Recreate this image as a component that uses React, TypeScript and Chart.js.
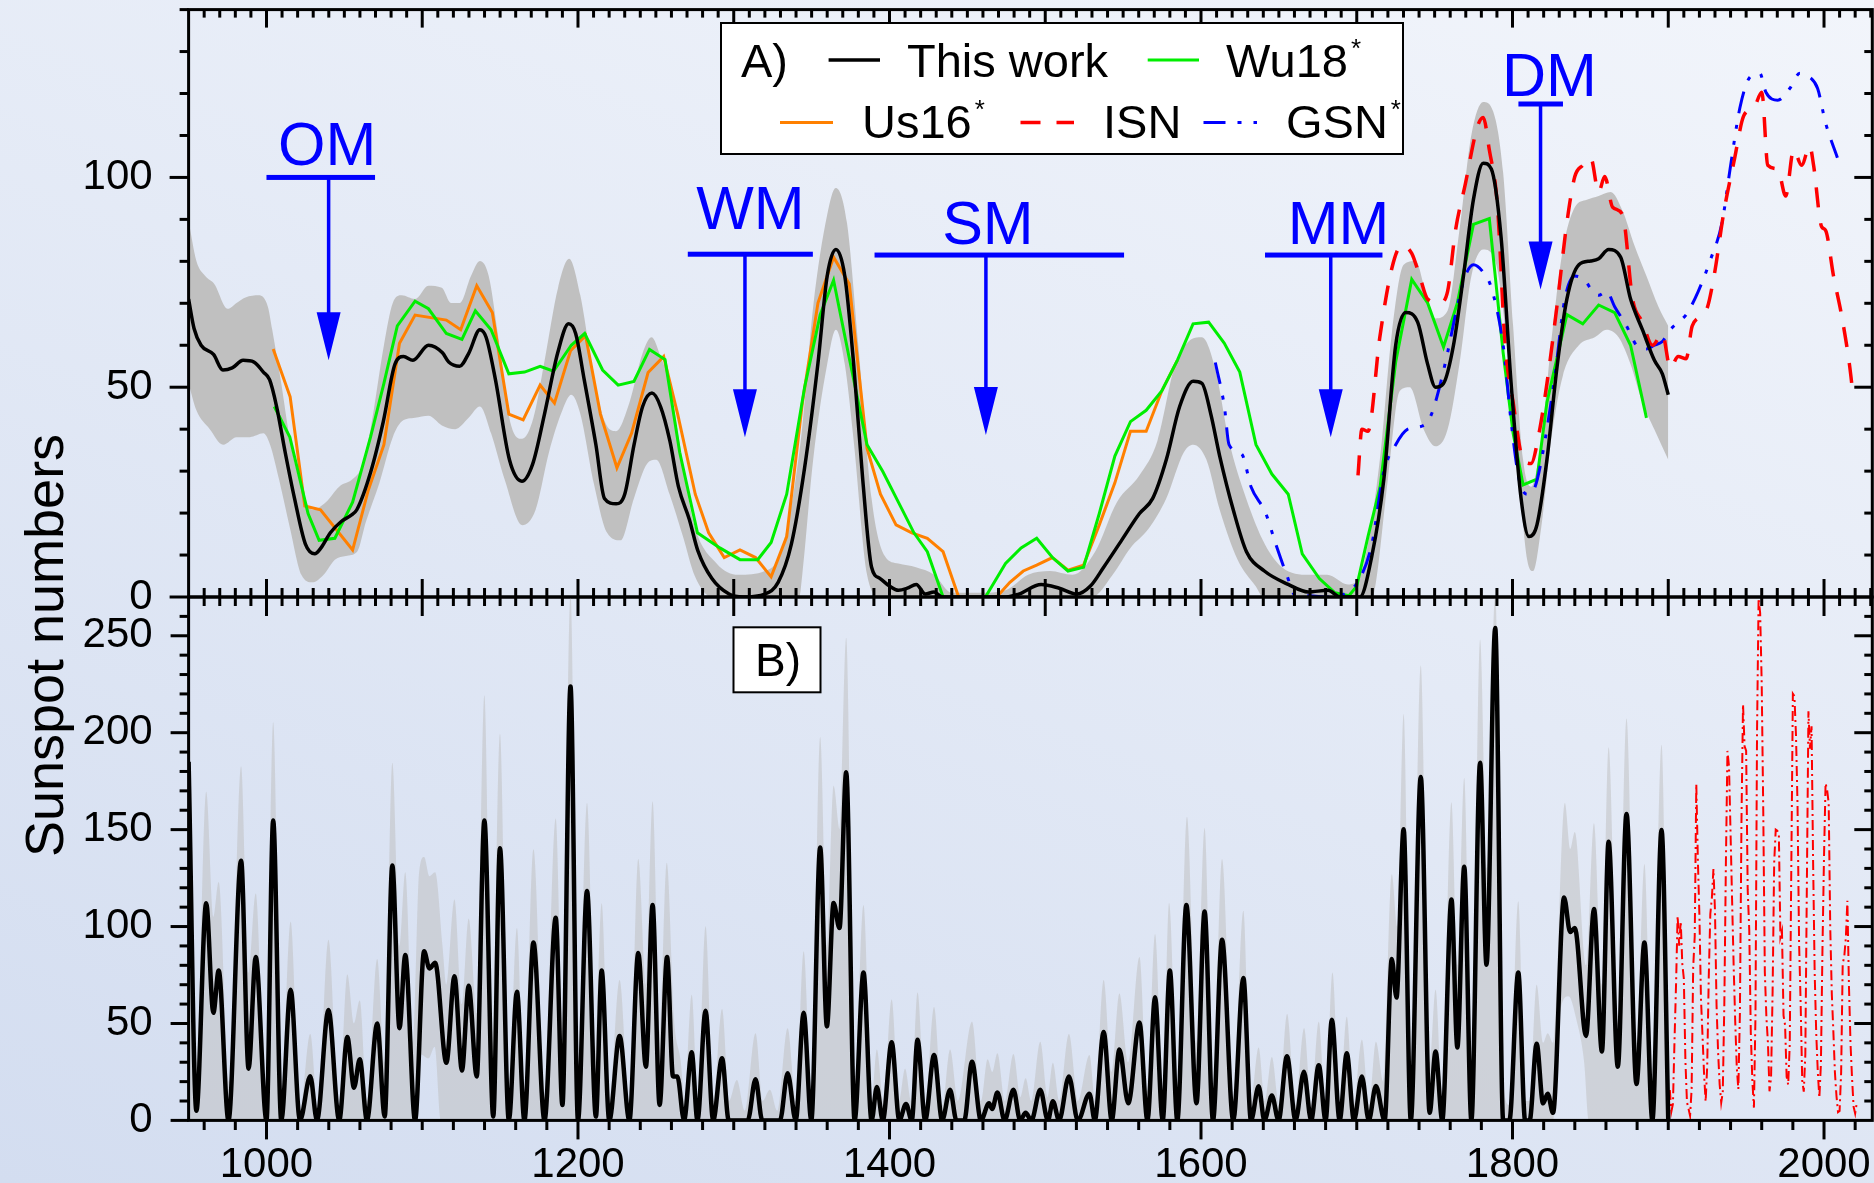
import React, { useEffect, useRef } from "react";
import { Chart, registerables } from "chart.js";

Chart.register(...registerables);

// ---------------- Panel A: smoothed reconstructions [year, sunspot number] ----------------
const thisWorkA: [number, number][] = [
  [950, 71], [953.5, 64], [958, 60], [966, 57.8], [972, 54.1], [978, 54.6], [985, 56.4], [992, 56], [998, 53.6],
  [1002, 51.8], [1006.5, 45.4], [1012, 34.5], [1018, 23.5], [1025, 12.6], [1031, 10.3], [1035, 11.7], [1041, 15.3],
  [1048, 18], [1054, 19.4], [1058, 20.8], [1067, 29.9], [1075, 41.8], [1082.5, 55.5], [1088, 57.3], [1094, 56.4],
  [1104, 60], [1113, 58.2], [1117, 56], [1124, 55], [1130, 58.2], [1137, 63.7], [1141, 61.9], [1147, 51.8],
  [1156, 32.7], [1164, 27.6], [1171, 31.8], [1178.5, 43.6], [1187, 58.2], [1194, 65.1], [1198.5, 62.8],
  [1204, 51.8], [1211.5, 36.3], [1217, 23.5], [1224.5, 22.2], [1230, 24.5], [1236, 36.3], [1241.5, 45.4],
  [1247.5, 48.6], [1253, 45.4], [1259, 37.2], [1264.5, 26.3], [1271.5, 18.5], [1277, 11], [1286, 4.4],
  [1297, 0.7], [1306, 0], [1320, 0.7], [1328.5, 3.5], [1337, 12.6], [1345.5, 30.8], [1354, 55.5], [1360, 76.5],
  [1365.6, 82.8], [1371.3, 76.5], [1377, 55.5], [1382.8, 28.1], [1388.5, 7.1], [1394, 4.4], [1400, 2.6],
  [1405.7, 1.6], [1411.4, 2.1], [1417.2, 3], [1423, 0.7], [1428.6, 1.2], [1434, 0], [1475, 0], [1483, 0.7],
  [1497.4, 3], [1509, 2.1], [1520.3, 0.7], [1529, 2.6], [1537.5, 7.1], [1549, 13.5], [1560.5, 19.9], [1569, 23.5],
  [1577.7, 32.7], [1586.3, 45.4], [1595, 51.4], [1600.6, 50.9], [1606.3, 43.6], [1612, 33.6], [1620.7, 20.8],
  [1629.2, 10.8], [1640.7, 6.2], [1656, 3], [1668.8, 1.2], [1681.6, 1.6], [1689.3, 0], [1702, 0], [1709.7, 9.8],
  [1717.4, 28.1], [1725, 60], [1731.4, 67.8], [1739.1, 65.5], [1745.5, 55.5], [1750.6, 50], [1755.7, 50.9],
  [1762.1, 60], [1768.5, 76.5], [1774.9, 94.7], [1781.2, 103.4], [1786.4, 102], [1792.7, 85.6], [1799.1, 50.9],
  [1805.5, 23.5], [1810.6, 14.4], [1815.7, 17.2], [1822.1, 32.7], [1828.5, 54.6], [1834.9, 71], [1842.6, 79.2],
  [1850.2, 80.1], [1855.3, 80.6], [1861.7, 82.8], [1869.4, 81], [1875.8, 71], [1883.4, 63.7], [1891.1, 56.4],
  [1896.2, 53.2], [1900, 48.2],
];

const bandUpperA: [number, number][] = [
  [950, 89.7], [955, 80.1], [960.7, 76.5], [966.5, 74.6], [975.1, 68.7], [980.8, 70.1], [986.5, 71.4], [995.1, 71.9],
  [1000.9, 69.2], [1003.7, 63.7], [1009.5, 50.9], [1015.2, 37.2], [1020.9, 28.1], [1029.5, 20.8], [1038.1, 22.6],
  [1046.7, 26.3], [1055.3, 28.1], [1061, 31], [1066.8, 40], [1075.4, 60], [1081.1, 70.1], [1086.8, 71.9],
  [1095.4, 71], [1104, 74.2], [1112.6, 73.7], [1118.4, 70.1], [1124.1, 70.1], [1131.3, 76.5], [1137, 80.1],
  [1142.7, 76.5], [1148.5, 62.8], [1157.1, 40.9], [1164.2, 37.7], [1171.4, 42.7], [1178.6, 56.4], [1187.2, 73.7],
  [1194.3, 80.6], [1201.5, 71.9], [1210.1, 52.7], [1217.2, 41.8], [1224.4, 39.5], [1233, 46.3], [1241.6, 58.2],
  [1247.3, 61.9], [1253, 57.3], [1258.8, 50.9], [1265, 37.2], [1274, 18], [1289, 8], [1303, 5.3], [1320, 6.2],
  [1331, 11.7], [1343, 37.2], [1351, 69.2], [1360, 91.1], [1365.5, 97.5], [1372.7, 89.2], [1380, 60],
  [1388.5, 23.5], [1397, 9.8], [1405.7, 8], [1417, 7.1], [1428.6, 5.3], [1440, 1], [1458, 1], [1474.5, 1.6],
  [1489, 5.3], [1503, 6.2], [1517.5, 5.3], [1532, 10.8], [1546, 22.6], [1560.5, 29], [1572, 37.2], [1583.4, 55.5],
  [1592, 60.9], [1600.6, 61.9], [1609, 54.6], [1618, 37.2], [1629, 23.5], [1641, 12.6], [1652, 7.1], [1669, 5.3],
  [1681, 5.3], [1694.4, 3], [1704.6, 8], [1714.8, 32.7], [1722.5, 62.8], [1730.1, 79.2], [1737.8, 80.1],
  [1744.2, 72.8], [1750.6, 66.4], [1758.3, 68.2], [1765.9, 87.4], [1773.6, 110.2], [1781.2, 118], [1787.6, 115.7],
  [1794, 101.1], [1800.4, 64.6], [1806.8, 32.7], [1811.9, 26.3], [1818.3, 37.2], [1824.7, 60], [1832.3, 82.8],
  [1840, 92.9], [1847.7, 94.7], [1855.3, 95.6], [1863, 96.5], [1870.7, 92], [1878.3, 83.8], [1886, 76.5],
  [1893.7, 69.2], [1900, 64.6],
];

const bandLowerA: [number, number][] = [
  [950, 50.9], [955, 44.5], [963.6, 40], [972.2, 36.3], [980.8, 38.1], [989.4, 38.1], [998, 39], [1002.3, 36.3],
  [1008, 28.1], [1015.2, 16.2], [1022.4, 5.3], [1029.5, 3.5], [1036.7, 5.3], [1043.9, 8.9], [1051, 9.8],
  [1058.2, 10.8], [1063.9, 18], [1072.5, 27.2], [1081.1, 38.1], [1086.8, 41.8], [1095.4, 42.7], [1104, 43.2],
  [1112.6, 40.9], [1121.2, 40], [1129.8, 42.7], [1137, 45.4], [1144.2, 39], [1152.8, 28.1], [1164.2, 17.1],
  [1172.8, 20.8], [1181.4, 34.5], [1190, 44.5], [1195.7, 48.2], [1201.5, 43.6], [1210.1, 27.2], [1218.7, 15.3],
  [1227.3, 13.5], [1235.9, 23.5], [1244.5, 31.8], [1250.2, 32.7], [1258.8, 24.5], [1267.4, 14.4], [1275, 5],
  [1286, 0], [1342, 0], [1344, 5.3], [1351, 32.7], [1360, 55.5], [1365.6, 63.7], [1371.3, 55.5], [1377, 37.2],
  [1385.6, 5.3], [1394, 0], [1530, 0], [1543.3, 5.3], [1554.7, 11.7], [1566.2, 16.2], [1577.7, 23.5], [1589, 34.5],
  [1595, 36.3], [1603.5, 32.7], [1612, 20.8], [1623.5, 8.9], [1635, 2.6], [1640, 0], [1710, 0], [1712.3, 3.5],
  [1720, 28.1], [1727.6, 49.1], [1734, 50], [1743, 39.9], [1750.6, 35.9], [1758.3, 39.9], [1765.9, 55.5],
  [1773.6, 76.5], [1781.2, 82.8], [1788.9, 80.1], [1796.6, 60], [1804.2, 28.1], [1809.4, 8.9], [1813.2, 6.2],
  [1818.3, 16.2], [1824.7, 37.2], [1832.3, 52.7], [1842.6, 60], [1852.8, 61.9], [1860.5, 63.7], [1868.1, 61.9],
  [1875.8, 55.5], [1883.4, 46.4], [1891.1, 39.9], [1900, 32.7],
];

const wu18: [number, number | null][] = [
  [1005, 45.4], [1015, 38.1], [1026.7, 19.9], [1033.8, 13.5], [1043.9, 14], [1055.3, 22.6], [1066.8, 38.1],
  [1075.4, 50.9], [1084, 64.6], [1095.4, 70.5], [1104, 68.7], [1115.5, 62.8], [1125.5, 61.4], [1134.1, 68.2],
  [1144.2, 63.7], [1155.6, 53.2], [1165.7, 53.6], [1175.7, 55], [1184.3, 53.8], [1195.7, 60], [1204.3, 62.8],
  [1215.8, 54.1], [1225.8, 50.5], [1235.9, 51.4], [1245.9, 59], [1255.9, 56.6], [1265.3, 34.5], [1276.7, 15.3],
  [1291.1, 11.7], [1304, 8.9], [1315.4, 8.9], [1324, 13], [1334, 24.5], [1345.5, 50], [1355.5, 67.3],
  [1364.1, 75.5], [1374.2, 56.9], [1385.6, 36.3], [1395.7, 29.9], [1405.7, 22.6], [1415.7, 15.3], [1424.3, 10.8],
  [1434.4, 0], [1448, null], [1461.6, 0], [1474.5, 8], [1484.5, 11.7], [1494.5, 14], [1504.6, 9.4],
  [1514.6, 6.2], [1524.6, 7.1], [1534.7, 19.9], [1544.7, 33.6], [1554.7, 41.8], [1564.8, 44.5], [1574.8, 49.1],
  [1584.8, 56.4], [1594.9, 65.1], [1604.9, 65.5], [1614.9, 60.5], [1624.9, 53.6], [1635.3, 36.3], [1645.5, 29.3],
  [1656, 24.5], [1665, 10.3], [1676, 4.4], [1686, 1], [1695, 0.3], [1700, 2.6], [1707.2, 14.4], [1715, 26.3],
  [1725, 56], [1735.3, 75.7], [1745.5, 70.1], [1755.7, 59.6], [1764.6, 70.1], [1774.9, 88.8], [1785.1, 90.2],
  [1794, 58.2], [1800.4, 39], [1806.8, 26.7], [1815.7, 28.1], [1822.1, 46.4], [1834.9, 67.3], [1845.1, 65.1],
  [1855.3, 69.6], [1865.6, 67.8], [1875.8, 60], [1886, 42.7],
];

const us16: [number, number | null][] = [
  [1004.3, 59.1], [1015.2, 47.7], [1024.6, 21.7], [1034.7, 20.8], [1055.3, 11.2], [1065.3, 25.4], [1075.4, 36.3],
  [1085.4, 60.5], [1095.4, 67.2], [1115.5, 66], [1124.7, 63.7], [1135, 74.2], [1145, 67.8], [1155.6, 43.6],
  [1164.8, 42.2], [1175.7, 50.5], [1184.9, 46.2], [1195.2, 58.7], [1204.9, 62.3], [1214.4, 43.6], [1225, 30.8],
  [1234.4, 39], [1245, 53.5], [1255, 57.3], [1264, 43.6], [1275.3, 24.5], [1283.9, 15.3], [1293.9, 9.4],
  [1304, 11.2], [1314, 9.4], [1324, 4.8], [1334, 14.4], [1344.1, 46.4], [1354.1, 70.1], [1364.1, 81],
  [1374.2, 74.6], [1385.6, 35.4], [1394.2, 24.5], [1404.2, 17.2], [1414.3, 15.3], [1424.3, 14], [1434.4, 10.8],
  [1444.4, 0], [1456, null], [1468.8, 0], [1477.3, 3.5], [1485.9, 6.2], [1494.5, 7.6], [1504.6, 9.4],
  [1514.6, 6.4], [1524.6, 7.6], [1534.7, 17.2], [1544.7, 27.2], [1554.7, 39.5], [1564.8, 39.5], [1574.8, 49.1],
  [1584.8, 56.4],
];

const isnSmoothed: [number, number][] = [
  [1700.8, 29], [1703.3, 40], [1707.2, 39.5], [1714.8, 61.9], [1722.5, 78.3], [1728.9, 83.8], [1735.3, 81.9],
  [1740.4, 76.5], [1745.5, 71], [1753.2, 70.1], [1758.3, 72.8], [1763.4, 87.4], [1769.7, 98.4], [1777.4, 112],
  [1781.2, 114.3], [1785.1, 106.6], [1790.2, 93.8], [1795.3, 60], [1800.4, 46.4], [1806.8, 32.7], [1811.9, 31.8],
  [1817, 39], [1822.1, 50.9], [1828.5, 69.2], [1834.9, 89.2], [1840, 100.2], [1845.1, 102.9], [1850.2, 104.7],
  [1855.3, 96.5], [1859.2, 100.2], [1864.3, 92.9], [1870.7, 91.1], [1877.1, 71], [1883.4, 65.5], [1889.9, 60],
  [1896.2, 62.8], [1901.3, 54.6], [1906.4, 57.3], [1911.5, 56.8], [1915.4, 64.6], [1924.3, 68.2], [1929.4, 76.5],
  [1935.8, 92], [1942.2, 103.8], [1948.6, 114.8], [1955, 116.6], [1960.1, 120.3], [1963.9, 102.9], [1970.3, 102],
  [1975.4, 95.6], [1980.5, 106.6], [1985.6, 102.9], [1990.8, 107.5], [1993.3, 102.9], [1998.4, 88.3],
  [2001, 87.4], [2006.1, 76.5], [2011.2, 67.3], [2016.3, 55.5], [2018.9, 47.3],
];

const gsnSmoothed: [number, number][] = [
  [1609.2, 55.9], [1615, 45.4], [1618, 36.3], [1626.3, 34], [1632.1, 26.3], [1641.5, 20], [1648, 12.6],
  [1655, 5.3], [1660.8, 0.3], [1668.8, 0.3], [1681.6, 0], [1694.4, 1.2], [1702, 4.4], [1709.7, 12.6],
  [1717.4, 29.9], [1725, 36.3], [1732.7, 40], [1743, 40.9], [1748, 43.6], [1753.1, 50], [1758.3, 58.2],
  [1763.4, 67.3], [1769.7, 76.5], [1774.9, 79.2], [1781.2, 77.4], [1786.4, 73.7], [1794, 60], [1799.1, 41.8],
  [1804.2, 28.1], [1809.4, 24.5], [1814.5, 26.3], [1820.8, 37.2], [1827.2, 52.7], [1833.6, 71], [1840, 76.5],
  [1846.4, 75.5], [1851.5, 72.8], [1855.3, 71.9], [1860.5, 72.8], [1865.6, 69.2], [1873.2, 64.6], [1879.6, 60],
  [1886, 59.1], [1891.1, 60], [1896.2, 60.9], [1901.3, 63.7], [1906.4, 65.5], [1911.5, 67.3], [1919.2, 72.8],
  [1926.8, 80.1], [1934.5, 89.2], [1939.7, 102], [1946, 116.6], [1952.4, 123.9], [1958.8, 124.8],
  [1962.7, 120.3], [1970.3, 118.4], [1978, 121.2], [1984.4, 124.8], [1990.8, 123.9], [1995.9, 121.2],
  [2001, 113], [2008.6, 104.7],
];

// ---------------- Panel B: annual reconstruction [year, sunspot number] ----------------
const thisWorkB: [number, number][] = [
  [950, 185], [955, 5], [961.3, 112], [965.9, 55.5], [969.3, 77.3], [975.6, 0], [983.7, 134], [988.5, 26.7],
  [993.1, 84.3], [1000, 0], [1004.3, 154.7], [1009.5, 0], [1015.5, 67.4], [1021.5, 0], [1028.1, 22.8],
  [1032.4, 0], [1039.8, 56.9], [1046.7, 0], [1051.9, 43], [1056.2, 16.9], [1059.9, 31.6], [1064.5, 0],
  [1071.1, 50], [1075.9, 2], [1080.8, 131.5], [1085.4, 47.6], [1089.1, 85.3], [1095.4, 0], [1101.2, 87.2],
  [1104.6, 78.4], [1108.3, 81.3], [1115.5, 29.7], [1120.7, 74.4], [1125.5, 25.7], [1129.8, 69.4], [1135, 22.7],
  [1139.9, 154.7], [1145.6, 2], [1149.9, 140.4], [1155.6, 0], [1160.8, 66.4], [1165.6, 0], [1171.4, 91.8],
  [1178.5, 0], [1185.7, 104.5], [1190, 7.9], [1195.2, 223.8], [1200, 0], [1205.8, 118.4], [1211.5, 2],
  [1215.2, 77.3], [1220.1, 0], [1226.7, 43.6], [1233, 0], [1238.7, 86.3], [1243.6, 27.7], [1247.9, 111.1],
  [1252.4, 8], [1257.2, 84.3], [1261, 22.7], [1263.8, 22.7], [1268.1, 0], [1273, 35.1], [1276.7, 0],
  [1281.9, 56.5], [1286.8, 0], [1292.5, 32.1], [1296.8, 0], [1309, 0], [1314, 21.2], [1318.3, 0], [1329.7, 0],
  [1334.6, 24.3], [1339.8, 0], [1344.9, 55.5], [1349.8, 0], [1355.5, 140.8], [1359.8, 48.5], [1364.1, 112.1],
  [1367.9, 99.2], [1372.2, 179.6], [1377.6, 0], [1383.3, 76.3], [1388.5, 0], [1391.9, 17.2], [1395.7, 0],
  [1401.4, 40.3], [1406.3, 0], [1410.6, 8.5], [1414.3, 0], [1418, 41.6], [1422.9, 0], [1428.6, 33.7],
  [1433.8, 0], [1438.9, 15.8], [1443, 0], [1448, 0], [1453, 30.3], [1458.7, 0], [1463.9, 8.9], [1465.9, 5.9],
  [1469.3, 14.4], [1473.9, 0], [1479.6, 15.8], [1483.9, 0], [1487.4, 3.9], [1491.1, 0], [1496.8, 15.8],
  [1501.7, 0], [1504.9, 9.9], [1508.9, 0], [1515.2, 22.7], [1520.9, 0], [1528.4, 13.8], [1531.8, 0],
  [1537.5, 45.6], [1542.7, 0], [1547.6, 36.6], [1553.3, 8.8], [1560.5, 50.5], [1565.6, 0], [1570.5, 63.5],
  [1575.4, 0], [1580, 77.3], [1584.8, 0], [1590.6, 111.1], [1597.1, 8.9], [1602.3, 107.7], [1607.7, 0],
  [1613.5, 93.2], [1620.7, 0], [1627.2, 73.4], [1632.1, 0], [1637, 17.6], [1640.7, 0], [1645.5, 12.8],
  [1649.8, 0], [1655.2, 33.1], [1660.7, 0], [1666.1, 25.1], [1670.7, 0], [1675.6, 28.5], [1680, 0],
  [1684, 51.9], [1689, 0], [1693.6, 34.7], [1698.2, 0], [1703.3, 22.7], [1707.7, 0], [1712.3, 17.8],
  [1717.9, 0], [1722.5, 83.3], [1725.5, 63.4], [1730.1, 150.2], [1734.7, 0], [1741.1, 177.2], [1746.8, 3.9],
  [1750.6, 35.6], [1754.9, 0], [1760.8, 114], [1764.6, 37.6], [1769, 130.9], [1773.6, 0], [1779.2, 184.5],
  [1783.3, 80.3], [1788.9, 254], [1794, 0], [1798, 0], [1803.7, 76.3], [1808.1, 0], [1811, 0], [1815.5, 39.6],
  [1819.6, 8.8], [1822.6, 13.8], [1826, 3.9], [1833.1, 115], [1837, 97.2], [1840, 99.2], [1847.2, 43.6],
  [1852.3, 109.1], [1857.4, 35.6], [1861.7, 143.8], [1867.6, 27.7], [1873.2, 158.1], [1879.6, 18.8],
  [1884.7, 91.8], [1889.8, 0], [1895.7, 149.8], [1900, 0],
];

const bandUpperB: [number, number][] = [
  [950, 253], [955, 30], [961.3, 169.6], [965.9, 105], [969.3, 123], [976, 20], [983.7, 182.5], [988.5, 76],
  [993.1, 117], [999.5, 10], [1004.3, 205.4], [1009.5, 15], [1015.5, 102.5], [1021.5, 5], [1028.1, 44.6],
  [1033, 5], [1039.8, 93.2], [1046.5, 8], [1051.9, 75.3], [1056.2, 50], [1059.9, 61.8], [1064.5, 10],
  [1071.1, 83.3], [1075.9, 30], [1080.8, 184.5], [1085.4, 90], [1089.1, 128], [1094, 40], [1098, 128],
  [1101.2, 135.9], [1104.6, 126], [1108.3, 128], [1113, 90], [1115.5, 70], [1120.7, 114], [1125.5, 60],
  [1129.8, 104], [1135, 55], [1139.9, 219.3], [1145, 40], [1149.9, 199.4], [1155.5, 15], [1160.8, 99.2],
  [1165.6, 10], [1171.4, 139.9], [1178.5, 10], [1185.7, 155.7], [1190, 50], [1195.2, 272], [1200, 15],
  [1205.8, 163.7], [1211, 35], [1215.2, 112], [1220.1, 10], [1226.7, 72.4], [1233, 8], [1238.7, 134.9],
  [1243.6, 70], [1247.9, 164.7], [1252.4, 45], [1257, 132.9], [1261.5, 53.5], [1266, 30], [1268.5, 10],
  [1273, 64.8], [1277, 10], [1281.9, 100.1], [1287, 10], [1292.5, 57.5], [1297, 10], [1302, 20.8], [1307, 5],
  [1314, 45], [1318.5, 10], [1323.2, 15.8], [1328, 5], [1334.6, 47.6], [1340, 10], [1344.9, 87.3], [1350, 10],
  [1355.5, 197.8], [1359.8, 90], [1364.1, 172.6], [1368, 150], [1372.2, 249], [1377.6, 20], [1383.3, 111.1],
  [1388.5, 10], [1391.9, 36.6], [1396, 10], [1401.4, 62.4], [1406, 10], [1410, 26.7], [1414, 10], [1418, 66],
  [1423, 8], [1428.6, 58.5], [1434, 8], [1438.9, 36.6], [1444, 10], [1453, 50.9], [1458.7, 10], [1463, 31.6],
  [1466, 25], [1469.3, 34.6], [1474, 10], [1479.6, 34.2], [1484, 12], [1487.4, 21.8], [1491, 10],
  [1496.8, 40.6], [1501.5, 12], [1504.9, 29.7], [1509, 10], [1515.2, 44.6], [1521, 10], [1528.4, 33.7],
  [1532, 10], [1537.5, 72.4], [1542.5, 25], [1547.6, 65.4], [1553.3, 30], [1560.5, 84.3], [1565.5, 15],
  [1570.5, 96.2], [1575.4, 15], [1579.5, 112.1], [1585, 10], [1591, 156.7], [1597, 40], [1602.3, 150.8],
  [1607.7, 10], [1613.5, 134.9], [1620.7, 10], [1627.2, 108.1], [1632, 10], [1637, 37.6], [1641, 10],
  [1645.5, 32.7], [1650, 8], [1655.3, 54.9], [1660.7, 8], [1666.2, 47.6], [1670.7, 8], [1675.6, 50.9],
  [1680, 8], [1684.4, 76.3], [1689, 8], [1693.6, 53.5], [1698, 8], [1703.3, 41.6], [1708, 8], [1712.3, 40.6],
  [1717, 20], [1722.5, 127], [1726, 100], [1730.1, 209.7], [1734.7, 15], [1741.1, 234.7], [1746.8, 30],
  [1750.6, 67.4], [1755, 10], [1760.8, 164.1], [1764.6, 80], [1769, 176.6], [1773.6, 10], [1779.2, 248],
  [1783.5, 130], [1788.9, 272], [1794, 20], [1798, 8], [1803.7, 113], [1808, 10], [1811, 10], [1815.5, 70],
  [1819.6, 40], [1822.6, 45], [1826, 40], [1833.6, 163.7], [1837, 140], [1840, 148.8], [1847.2, 80],
  [1852.3, 153.3], [1857.4, 70], [1861.7, 192.5], [1867.6, 50], [1873.2, 207.3], [1879.6, 40], [1884.7, 132.3],
  [1889.8, 15], [1895.7, 193.8], [1900, 10],
];

const bandLowerB: [number, number][] = [
  [950, 0], [1096, 0], [1099, 34], [1104, 32], [1108, 38], [1112, 0], [1826, 0], [1831, 58], [1836, 64],
  [1841, 52], [1846, 30], [1849, 0], [1900, 0],
];

// International sunspot number, yearly means from 1900 onwards
const isnFirstYear = 1900;
const isnAnnual: number[] = [
  15.7, 4.6, 8.5, 40.8, 70.1, 105.5, 90.1, 102.8, 80.9, 73.2,
  30.9, 9.5, 6.0, 2.4, 16.1, 79.0, 95.0, 173.6, 134.6, 105.7,
  62.7, 43.5, 23.7, 9.7, 27.9, 74.0, 106.5, 114.7, 129.7, 108.2,
  59.4, 35.1, 18.6, 9.2, 14.6, 60.2, 132.8, 190.6, 182.6, 148.0,
  113.0, 79.2, 50.8, 27.1, 16.1, 55.3, 154.3, 214.7, 193.0, 190.7,
  118.9, 98.3, 45.0, 20.1, 6.6, 54.2, 200.7, 269.3, 261.7, 225.1,
  159.0, 76.4, 53.4, 39.9, 15.0, 22.0, 66.8, 132.9, 150.0, 149.4,
  148.0, 94.4, 97.6, 54.1, 49.2, 22.5, 18.4, 39.3, 131.0, 220.1,
  218.9, 198.9, 162.4, 91.0, 60.5, 20.6, 14.8, 33.9, 123.0, 211.1,
  191.8, 203.3, 133.0, 76.1, 44.9, 25.1, 11.6, 28.9, 88.3, 136.3,
  173.9, 170.4, 163.6, 99.3, 65.3, 45.8, 24.7, 12.6, 4.2, 4.8,
  24.9, 80.8, 84.5, 94.0, 113.3, 69.8, 39.8, 21.7, 7.0, 3.6, 8.8,
];

// ---------------- Axis ticks ----------------
const yTicksA = [0, 50, 100];
const yTicksB = [0, 50, 100, 150, 200, 250];
const xTickLabels = [1000, 1200, 1400, 1600, 1800, 2000];

// ---------------- Grand minima markers (panel A) ----------------
const minimaNames = ["OM", "WM", "SM", "MM", "DM"];
const minimaBarStart = [1000, 1270.5, 1390.4, 1641.1, 1803.8];
const minimaBarEnd = [1069.7, 1350.8, 1550.6, 1716.5, 1832.4];
const minimaBarLevel = [100, 81.7, 81.5, 81.5, 117.5];
const minimaArrowYear = [1039.9, 1307.2, 1461.9, 1683.3, 1818];
const minimaArrowTip = [56.4, 38.1, 38.6, 38.1, 73.3];
const minimaLabelYear = [1038.9, 1310.7, 1463.2, 1688.3, 1823.7];
const minimaLabelLevel = [102.9, 87.6, 84.2, 84.2, 119.3];

// ---------------- Layout ----------------
const FONT = '"Liberation Sans", Arial, Helvetica, sans-serif';
const W = 1874;
const H = 1183;
const PLOT_LEFT = 188.6;
const PLOT_RIGHT = 1872.3;
const TOP_A = 9.6;
const MID = 597;
const BOTTOM_B = 1120.4;
const X_MIN = 950;
const X_MAX = 2031;

const BLACK = "#000000";
const GREEN = "#00ee00";
const ORANGE = "#ff8000";
const RED = "#ff0000";
const BLUE = "#0000ff";

const toXY = (pts: [number, number | null][]) => pts.map(([x, y]) => ({ x, y }));

function lineSet(label: string, pts: [number, number | null][], color: string, width: number, dash: number[], smooth: boolean) {
  return {
    label,
    data: toXY(pts),
    borderColor: color,
    backgroundColor: color,
    borderWidth: width,
    borderDash: dash,
    pointRadius: 0,
    fill: false,
    tension: 0,
    cubicInterpolationMode: smooth ? "monotone" : "default",
  };
}

function bandSet(label: string, pts: [number, number][], fill: string | boolean, color: string) {
  return {
    label,
    data: toXY(pts),
    borderColor: "rgba(0,0,0,0)",
    backgroundColor: color,
    borderWidth: 0,
    pointRadius: 0,
    fill,
    tension: 0,
    cubicInterpolationMode: "monotone",
  };
}

function seg(ctx: CanvasRenderingContext2D, x0: number, y0: number, x1: number, y1: number) {
  ctx.beginPath();
  ctx.moveTo(x0, y0);
  ctx.lineTo(x1, y1);
  ctx.stroke();
}

// no extra room for tick labels: the plot area is fixed by the layout padding
const noScalePadding = (s: any) => {
  s.paddingTop = 0;
  s.paddingBottom = 0;
  s.paddingLeft = 0;
  s.paddingRight = 0;
};

// Frame, ticks, legend and minima markers of the upper panel
const decorA = {
  id: "decorA",
  afterDraw(chart: any) {
    const { ctx, chartArea: ca, scales } = chart;
    const x = scales.x;
    const y = scales.y;
    ctx.save();
    ctx.strokeStyle = "#000";
    ctx.lineWidth = 3;
    ctx.lineCap = "butt";
    for (let yr = 960; yr < X_MAX; yr += 10) {
      const px = x.getPixelForValue(yr);
      seg(ctx, px, ca.top, px, ca.top + (yr % 100 === 0 ? 18 : 8));
    }
    for (let v = 0; v <= 140; v += 10) {
      const py = y.getPixelForValue(v);
      const major = v % 50 === 0;
      seg(ctx, ca.left - (major ? 19 : 9), py, ca.left, py);
      if (v > 0 && v < 140) seg(ctx, ca.right, py, ca.right - (major ? 18 : 8), py);
    }
    ctx.lineCap = "square";
    ctx.strokeRect(ca.left, ca.top, ca.right - ca.left, ca.bottom - ca.top);

    // minima markers
    ctx.fillStyle = BLUE;
    ctx.strokeStyle = BLUE;
    ctx.lineCap = "butt";
    for (let i = 0; i < minimaNames.length; i++) {
      const x0 = x.getPixelForValue(minimaBarStart[i]);
      const x1 = x.getPixelForValue(minimaBarEnd[i]);
      const yb = y.getPixelForValue(minimaBarLevel[i]);
      ctx.fillRect(x0, yb - 2.5, x1 - x0, 5);
      const xa = x.getPixelForValue(minimaArrowYear[i]);
      const yt = y.getPixelForValue(minimaArrowTip[i]);
      ctx.lineWidth = 3.5;
      seg(ctx, xa, yb, xa, yt - 44);
      ctx.beginPath();
      ctx.moveTo(xa - 12, yt - 48);
      ctx.lineTo(xa + 12, yt - 48);
      ctx.lineTo(xa, yt);
      ctx.closePath();
      ctx.fill();
      ctx.font = `61px ${FONT}`;
      ctx.textAlign = "center";
      ctx.textBaseline = "alphabetic";
      ctx.fillText(minimaNames[i], x.getPixelForValue(minimaLabelYear[i]), y.getPixelForValue(minimaLabelLevel[i]));
    }

    // legend box
    const lx = 721;
    const ly = 23;
    ctx.fillStyle = "#fff";
    ctx.fillRect(lx, ly, 682, 131);
    ctx.strokeStyle = "#000";
    ctx.lineWidth = 2;
    ctx.strokeRect(lx, ly, 682, 131);
    ctx.fillStyle = "#000";
    ctx.font = `47px ${FONT}`;
    ctx.textAlign = "left";
    ctx.fillText("A)", lx + 20, ly + 53.5);
    const ds = chart.data.datasets;
    const entries = [
      { i: 0, text: "This work", star: false, s0: 107.6, s1: 159, t: 186, row: 0 },
      { i: 3, text: "Wu18", star: true, s0: 426.7, s1: 478, t: 505, row: 0 },
      { i: 4, text: "Us16", star: true, s0: 59, s1: 112, t: 141, row: 1 },
      { i: 1, text: "ISN", star: false, s0: 299.5, s1: 353, t: 382, row: 1 },
      { i: 2, text: "GSN", star: true, s0: 482.5, s1: 536, t: 565, row: 1 },
    ];
    for (const e of entries) {
      const d = ds[e.i];
      const sy = ly + (e.row === 0 ? 37 : 99.5);
      const by = ly + (e.row === 0 ? 53.5 : 115);
      ctx.save();
      ctx.strokeStyle = d.borderColor;
      ctx.lineWidth = d.borderWidth;
      ctx.setLineDash(d.borderDash || []);
      seg(ctx, lx + e.s0, sy, lx + e.s1, sy);
      ctx.restore();
      ctx.fillStyle = "#000";
      ctx.font = `47px ${FONT}`;
      ctx.fillText(e.text, lx + e.t, by);
      if (e.star) {
        const w = ctx.measureText(e.text).width;
        ctx.font = `26px ${FONT}`;
        ctx.fillText("*", lx + e.t + w + 3, by - 20);
      }
    }
    ctx.restore();
  },
};

// Frame, ticks, panel tag and shared axis title of the lower panel
const decorB = {
  id: "decorB",
  afterDraw(chart: any) {
    const { ctx, chartArea: ca, scales } = chart;
    const x = scales.x;
    const y = scales.y;
    ctx.save();
    ctx.strokeStyle = "#000";
    ctx.lineWidth = 3;
    ctx.lineCap = "butt";
    for (let yr = 960; yr < X_MAX; yr += 10) {
      const px = x.getPixelForValue(yr);
      const major = yr % 100 === 0;
      seg(ctx, px, ca.top - (major ? 18 : 9), px, ca.top + (major ? 19 : 9));
    }
    for (let yr = 960; yr < X_MAX; yr += 20) {
      const px = x.getPixelForValue(yr);
      seg(ctx, px, ca.bottom, px, ca.bottom + (yr % 200 === 0 ? 19 : 9.6));
    }
    for (let v = 0; v < 270; v += 10) {
      const py = y.getPixelForValue(v);
      const major = v % 50 === 0;
      seg(ctx, ca.left - (major ? 18 : 9), py, ca.left, py);
      if (v > 0) seg(ctx, ca.right, py, ca.right - (major ? 18 : 8), py);
    }
    ctx.lineCap = "square";
    ctx.strokeRect(ca.left, ca.top, ca.right - ca.left, ca.bottom - ca.top);

    // panel tag
    ctx.fillStyle = "#fff";
    ctx.fillRect(733.5, 627.3, 87, 65);
    ctx.lineWidth = 2;
    ctx.strokeRect(733.5, 627.3, 87, 65);
    ctx.fillStyle = "#000";
    ctx.font = `46px ${FONT}`;
    ctx.textAlign = "left";
    ctx.textBaseline = "alphabetic";
    ctx.fillText("B)", 755, 676);

    // shared y-axis title
    ctx.translate(62.5, 645.5);
    ctx.rotate(-Math.PI / 2);
    ctx.font = `54px ${FONT}`;
    ctx.textAlign = "center";
    ctx.fillText("Sunspot numbers", 0, 0);
    ctx.restore();
  },
};

const tickFont = { family: FONT, size: 42 };

function configA(): any {
  return {
    type: "line",
    data: {
      datasets: [
        lineSet("This work", thisWorkA, BLACK, 3.5, [], true),
        lineSet("ISN", isnSmoothed, RED, 3.5, [20, 16], true),
        lineSet("GSN*", gsnSmoothed, BLUE, 3, [22, 12, 4, 12, 4, 12], true),
        lineSet("Wu18*", wu18, GREEN, 3, [], false),
        lineSet("Us16*", us16, ORANGE, 3, [], false),
        bandSet("upper A", bandUpperA, "+1", "#c0c0c0"),
        bandSet("lower A", bandLowerA, false, "#c0c0c0"),
      ],
    },
    options: {
      responsive: false,
      maintainAspectRatio: false,
      animation: false,
      devicePixelRatio: 1,
      events: [],
      layout: { padding: { left: 0, right: W - PLOT_RIGHT, top: TOP_A, bottom: H - MID } },
      plugins: { legend: { display: false }, tooltip: { enabled: false } },
      scales: {
        x: { type: "linear", min: X_MIN, max: X_MAX, display: false },
        y: {
          type: "linear",
          position: "left",
          min: 0,
          max: 140,
          afterFit: (s: any) => { s.width = PLOT_LEFT; noScalePadding(s); },
          afterBuildTicks: (s: any) => { s.ticks = yTicksA.map((v) => ({ value: v })); },
          grid: { display: false, drawTicks: false },
          border: { display: false },
          ticks: { font: tickFont, color: "#000", padding: 36, callback: (v: any) => String(v) },
        },
      },
    },
    plugins: [decorA],
  };
}

function configB(): any {
  const isnPts: [number, number][] = isnAnnual.map((v, i) => [isnFirstYear + i + 1, v]);
  return {
    type: "line",
    data: {
      datasets: [
        lineSet("This work (annual)", thisWorkB, BLACK, 4.5, [], true),
        lineSet("ISN (annual)", isnPts, RED, 2, [10, 4, 2, 4], false),
        bandSet("upper B", bandUpperB, "+1", "rgba(190,190,190,0.5)"),
        bandSet("lower B", bandLowerB, false, "rgba(190,190,190,0.5)"),
      ],
    },
    options: {
      responsive: false,
      maintainAspectRatio: false,
      animation: false,
      devicePixelRatio: 1,
      events: [],
      layout: { padding: { left: 0, right: W - PLOT_RIGHT, top: MID, bottom: 0 } },
      plugins: { legend: { display: false }, tooltip: { enabled: false } },
      scales: {
        x: {
          type: "linear",
          min: X_MIN,
          max: X_MAX,
          afterFit: (s: any) => { s.height = H - BOTTOM_B; noScalePadding(s); },
          afterBuildTicks: (s: any) => { s.ticks = xTickLabels.map((v) => ({ value: v })); },
          grid: { display: false, drawTicks: false },
          border: { display: false },
          ticks: { font: tickFont, color: "#000", padding: 20, maxRotation: 0, autoSkip: false, callback: (v: any) => String(v) },
        },
        y: {
          type: "linear",
          position: "left",
          min: 0,
          max: 270,
          afterFit: (s: any) => { s.width = PLOT_LEFT; noScalePadding(s); },
          afterBuildTicks: (s: any) => { s.ticks = yTicksB.map((v) => ({ value: v })); },
          grid: { display: false, drawTicks: false },
          border: { display: false },
          ticks: { font: tickFont, color: "#000", padding: 36, callback: (v: any) => String(v) },
        },
      },
    },
    plugins: [decorB],
  };
}

export default function App() {
  const refA = useRef<HTMLCanvasElement | null>(null);
  const refB = useRef<HTMLCanvasElement | null>(null);

  useEffect(() => {
    const chartA = new Chart(refA.current as HTMLCanvasElement, configA());
    const chartB = new Chart(refB.current as HTMLCanvasElement, configB());
    return () => {
      chartA.destroy();
      chartB.destroy();
    };
  }, []);

  const canvasStyle: React.CSSProperties = { position: "absolute", left: 0, top: 0, width: W, height: H };
  return (
    <div
      style={{
        position: "fixed",
        left: 0,
        top: 0,
        width: W,
        height: H,
        overflow: "hidden",
        background: "linear-gradient(200deg, #f2f5fb 0%, #d3ddf0 100%)",
      }}
    >
      <canvas ref={refA} width={W} height={H} style={canvasStyle} />
      <canvas ref={refB} width={W} height={H} style={canvasStyle} />
    </div>
  );
}
